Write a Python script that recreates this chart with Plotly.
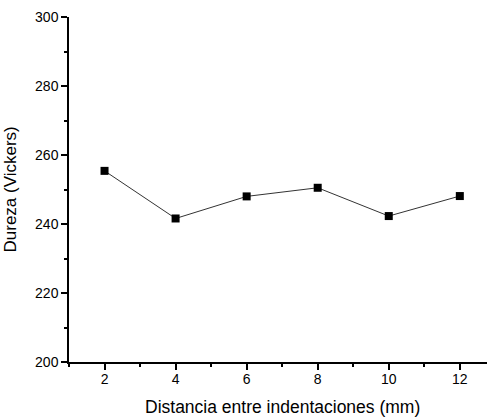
import plotly.graph_objects as go

# Hardness measured at each indentation spacing
distancia_mm = [2, 4, 6, 8, 10, 12]
dureza_hv = [255.4, 241.6, 248.0, 250.5, 242.3, 248.1]

x_ticks = [2, 4, 6, 8, 10, 12]
y_ticks = [200, 220, 240, 260, 280, 300]

FONT = "Liberation Sans, Arial, sans-serif"

fig = go.Figure()
fig.add_trace(go.Scatter(
    x=distancia_mm,
    y=dureza_hv,
    mode="lines+markers",
    line=dict(color="#333333", width=1),
    marker=dict(symbol="square", size=8, color="black", line=dict(width=0)),
    showlegend=False,
    hoverinfo="x+y",
))

axis_common = dict(
    showline=True,
    linecolor="black",
    linewidth=1.5,
    ticks="outside",
    ticklen=6,
    tickwidth=1.5,
    tickcolor="black",
    showgrid=False,
    zeroline=False,
    mirror=False,
    tickfont=dict(family=FONT, size=14, color="black"),
)

fig.update_xaxes(
    range=[1, 12.765],
    tickvals=x_ticks,
    ticktext=[str(v) for v in x_ticks],
    ticklabelstandoff=-3,
    minor=dict(ticks="outside", ticklen=3, tickwidth=1.5, tickcolor="black", dtick=1, tick0=1),
    **axis_common,
)
fig.update_yaxes(
    range=[200, 300],
    tickvals=y_ticks,
    ticktext=[str(v) for v in y_ticks],
    minor=dict(ticks="outside", ticklen=3, tickwidth=1.5, tickcolor="black", dtick=10, tick0=200),
    **axis_common,
)

fig.add_annotation(
    text="Distancia entre indentaciones (mm)",
    xref="paper", yref="paper",
    x=(282 - 69) / 418, y=(362 - 407) / 345,
    xanchor="center", yanchor="middle",
    showarrow=False,
    font=dict(family=FONT, size=17.5, color="black"),
)
fig.add_annotation(
    text="Dureza (Vickers)",
    xref="paper", yref="paper",
    x=(10 - 69) / 418, y=0.5,
    xanchor="center", yanchor="middle",
    textangle=-90,
    showarrow=False,
    font=dict(family=FONT, size=17, color="black"),
)

fig.update_layout(
    width=487,
    height=417,
    margin=dict(l=69, r=0, t=17, b=55),
    paper_bgcolor="white",
    plot_bgcolor="white",
)

fig.write_html("out.html")
